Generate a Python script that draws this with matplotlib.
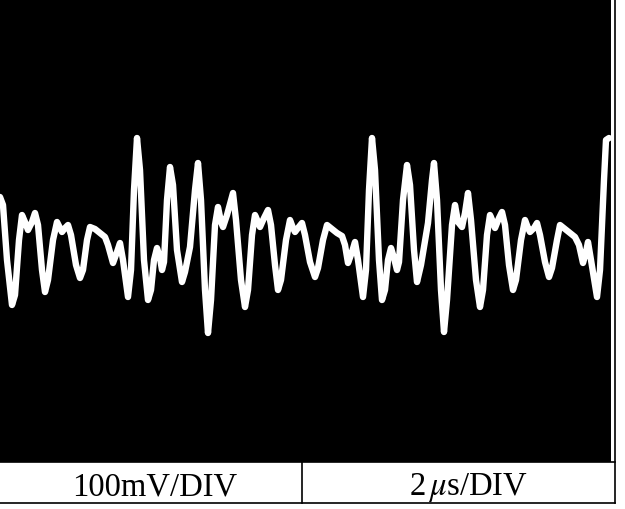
import matplotlib
matplotlib.use("Agg")
import matplotlib.pyplot as plt
from matplotlib.lines import Line2D

# Oscilloscope trace: time in microseconds, voltage in mV
time_us = [0.00, 0.09, 0.21, 0.36, 0.45, 0.57, 0.66, 0.75, 0.84, 0.96, 1.05, 1.14, 1.26, 1.35, 1.44,
           1.59, 1.71, 1.80, 1.86, 1.95, 2.04, 2.13, 2.28, 2.40, 2.49, 2.61, 2.70, 2.85, 3.00, 3.15,
           3.24, 3.39, 3.51, 3.60, 3.69, 3.84, 3.93, 4.02, 4.11, 4.20, 4.32, 4.44, 4.53, 4.62, 4.71,
           4.80, 4.86, 4.92, 5.01, 5.10, 5.19, 5.31, 5.46, 5.55, 5.70, 5.85, 5.94, 6.03, 6.15, 6.24,
           6.33, 6.45, 6.54, 6.63, 6.69, 6.81, 6.99, 7.08, 7.23, 7.35, 7.44, 7.56, 7.65, 7.74, 7.80,
           7.92, 8.04, 8.13, 8.25, 8.34, 8.43, 8.58, 8.70, 8.79, 8.85, 8.94, 9.06, 9.15, 9.30, 9.45,
           9.54, 9.69, 9.81, 9.96, 10.11, 10.26, 10.35, 10.44, 10.56, 10.65, 10.74, 10.89, 10.98, 11.07,
           11.16, 11.25, 11.37, 11.46, 11.55, 11.64, 11.73, 11.82, 11.91, 11.97, 12.09, 12.21, 12.30,
           12.42, 12.51, 12.63, 12.84, 12.96, 13.02, 13.11, 13.23, 13.32, 13.41, 13.56, 13.65, 13.74,
           13.86, 13.95, 14.04, 14.13, 14.28, 14.40, 14.49, 14.61, 14.70, 14.79, 14.85, 14.97, 15.06,
           15.15, 15.27, 15.39, 15.48, 15.63, 15.75, 15.84, 15.90, 16.02, 16.11, 16.20, 16.35, 16.47,
           16.56, 16.71, 16.80, 16.95, 17.10, 17.25, 17.37, 17.49, 17.58, 17.64, 17.73, 17.91, 18.00,
           18.12, 18.18, 18.27]
volt_mv = [68, 52, -58, -148, -128, -18, 32, 18, 2, 18, 36, 12, -78, -122, -98,
           -18, 18, 6, -2, 6, 12, -8, -68, -94, -78, -18, 8, 4, -4, -12,
           -28, -64, -42, -24, -58, -132, -78, 82, 186, 122, -58, -138, -118, -58, -34,
           -54, -78, -62, 62, 128, 92, -38, -102, -82, -32, 82, 136, 62, -118, -204,
           -138, 12, 48, 18, 8, 32, 76, 22, -98, -152, -118, -8, 32, 18, 8,
           26, 42, 12, -68, -118, -98, -18, 22, 6, -2, 6, 16, -8, -62, -92,
           -74, -18, 12, 4, -4, -10, -28, -64, -42, -22, -58, -132, -78, 82,
           186, 122, -58, -138, -118, -58, -34, -54, -78, -62, 62, 132, 92,
           -38, -102, -68, 16, 102, 136, 62, -118, -202, -138, 12, 52, 18,
           8, 36, 76, 22, -98, -152, -118, -8, 32, 18, 6, 26, 38,
           12, -68, -118, -98, -18, 22, 6, -2, 6, 16, -8, -62, -92,
           -74, -18, 12, 4, -4, -12, -28, -64, -42, -22, -58, -132, -78,
           102, 182, 186]

scale_labels = ["100mV/DIV", r"2$\,\mu$s/DIV"]

W, H = 625, 509
plt.rcParams["mathtext.fontset"] = "stix"
fig = plt.figure(figsize=(W / 100, H / 100), dpi=100)
fig.patch.set_facecolor("white")

# screen
ax = fig.add_axes([0, 47 / H, 611 / W, 462 / H])
ax.set_facecolor("black")
ax.plot(time_us, volt_mv, color="white", lw=4.6, solid_capstyle="round", solid_joinstyle="round")
ax.set_xlim(0, 18.33)
ax.set_ylim(-462, 462)
ax.set_xticks([])
ax.set_yticks([])
for s in ax.spines.values():
    s.set_visible(False)


def fx(px):
    return px / W


def fy(py):
    return 1 - py / H


lines = [
    ((0, 615), (462, 462)),
    ((0, 615), (503, 503)),
    ((615, 615), (0, 503)),
    ((302, 302), (462, 503)),
]
for (x0, x1), (y0, y1) in lines:
    fig.add_artist(Line2D([fx(x0), fx(x1)], [fy(y0), fy(y1)], color="black", lw=1.2))

fig.text(fx(155), fy(495), scale_labels[0], ha="center", va="baseline",
         family="Liberation Serif", fontsize=23.5)
fig.text(fx(468), fy(495), scale_labels[1], ha="center", va="baseline",
         family="Liberation Serif", fontsize=23.5)

fig.savefig("out.png", dpi=100, facecolor="white")
